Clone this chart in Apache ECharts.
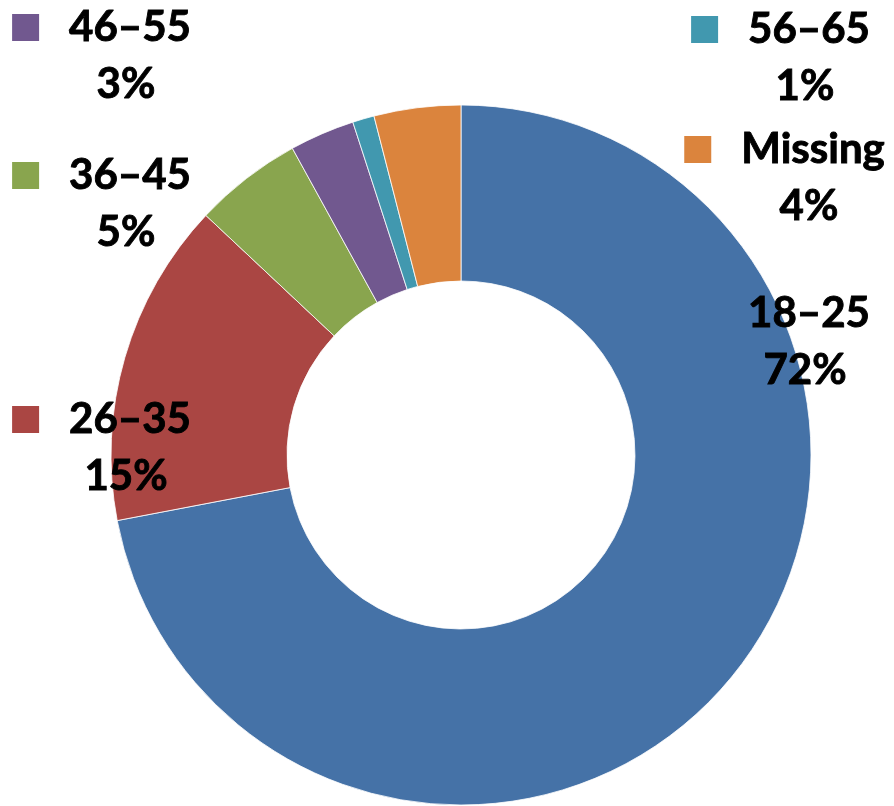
<!DOCTYPE html>
<html>
<head>
<meta charset="utf-8">
<style>
  html, body { margin: 0; padding: 0; background: #fff; }
  #chart { width: 894px; height: 806px; }
</style>
<script src="https://cdn.jsdelivr.net/npm/echarts@6/dist/echarts.min.js"></script>
</head>
<body>
<div id="chart"></div>
<script>
// Age groups, in clockwise order starting at 12 o'clock
const categories = ['18–25', '26–35', '36–45', '46–55', '56–65', 'Missing'];
// Share of respondents (%)
const values = [72, 15, 5, 3, 1, 4];
const colors = ['#4572A7', '#AA4643', '#89A54E', '#71588F', '#4198AF', '#DB843D'];
// Groups whose label carries a colour key square
const keyed = ['26–35', '36–45', '46–55', '56–65', 'Missing'];

// Label anchor points (centre of each two-line label)
const labelSpots = [
  [809, 342], [130, 448], [130, 204], [130, 56], [809, 58], [813, 178]
];

const FONT = 'Lato, "Open Sans", "Liberation Sans", sans-serif';
const textBase = {
  fontFamily: FONT, fontWeight: 'bold', fontSize: 42, color: '#000', lineHeight: 57,
  textBorderColor: '#000', textBorderWidth: 0.9
};
const pctStyle = Object.assign({}, textBase, { padding: [0, 8, 0, 0] });

const data = categories.map((name, i) => {
  const withKey = keyed.includes(name);
  return {
    name: name,
    value: values[i],
    itemStyle: { color: colors[i] },
    label: {
      formatter: withKey
        ? '{sq|}{gap|}{name|' + name + '}{pad|}\n{pct|' + values[i] + '%}'
        : '{name|' + name + '}\n{pct|' + values[i] + '%}',
      rich: {
        sq: { width: 27, height: 27, backgroundColor: colors[i], lineHeight: 57 },
        gap: { width: 30, lineHeight: 57 },
        pad: { width: 57, lineHeight: 57 },
        name: textBase,
        pct: pctStyle
      }
    }
  };
});

const chart = echarts.init(document.getElementById('chart'), null, { renderer: 'canvas' });
chart.setOption({
  animation: false,
  backgroundColor: '#fff',
  series: [{
    type: 'pie',
    center: [461, 455],
    radius: [174, 350],
    startAngle: 90,
    clockwise: true,
    avoidLabelOverlap: false,
    itemStyle: { borderColor: '#fff', borderWidth: 0.8 },
    label: {
      show: true,
      position: 'outside',
      align: 'center',
      ...textBase
    },
    labelLine: { show: false },
    labelLayout: function (params) {
      const p = labelSpots[params.dataIndex];
      return { x: p[0], y: p[1], align: 'center', verticalAlign: 'middle' };
    },
    emphasis: { disabled: true },
    data: data
  }]
});
</script>
</body>
</html>
